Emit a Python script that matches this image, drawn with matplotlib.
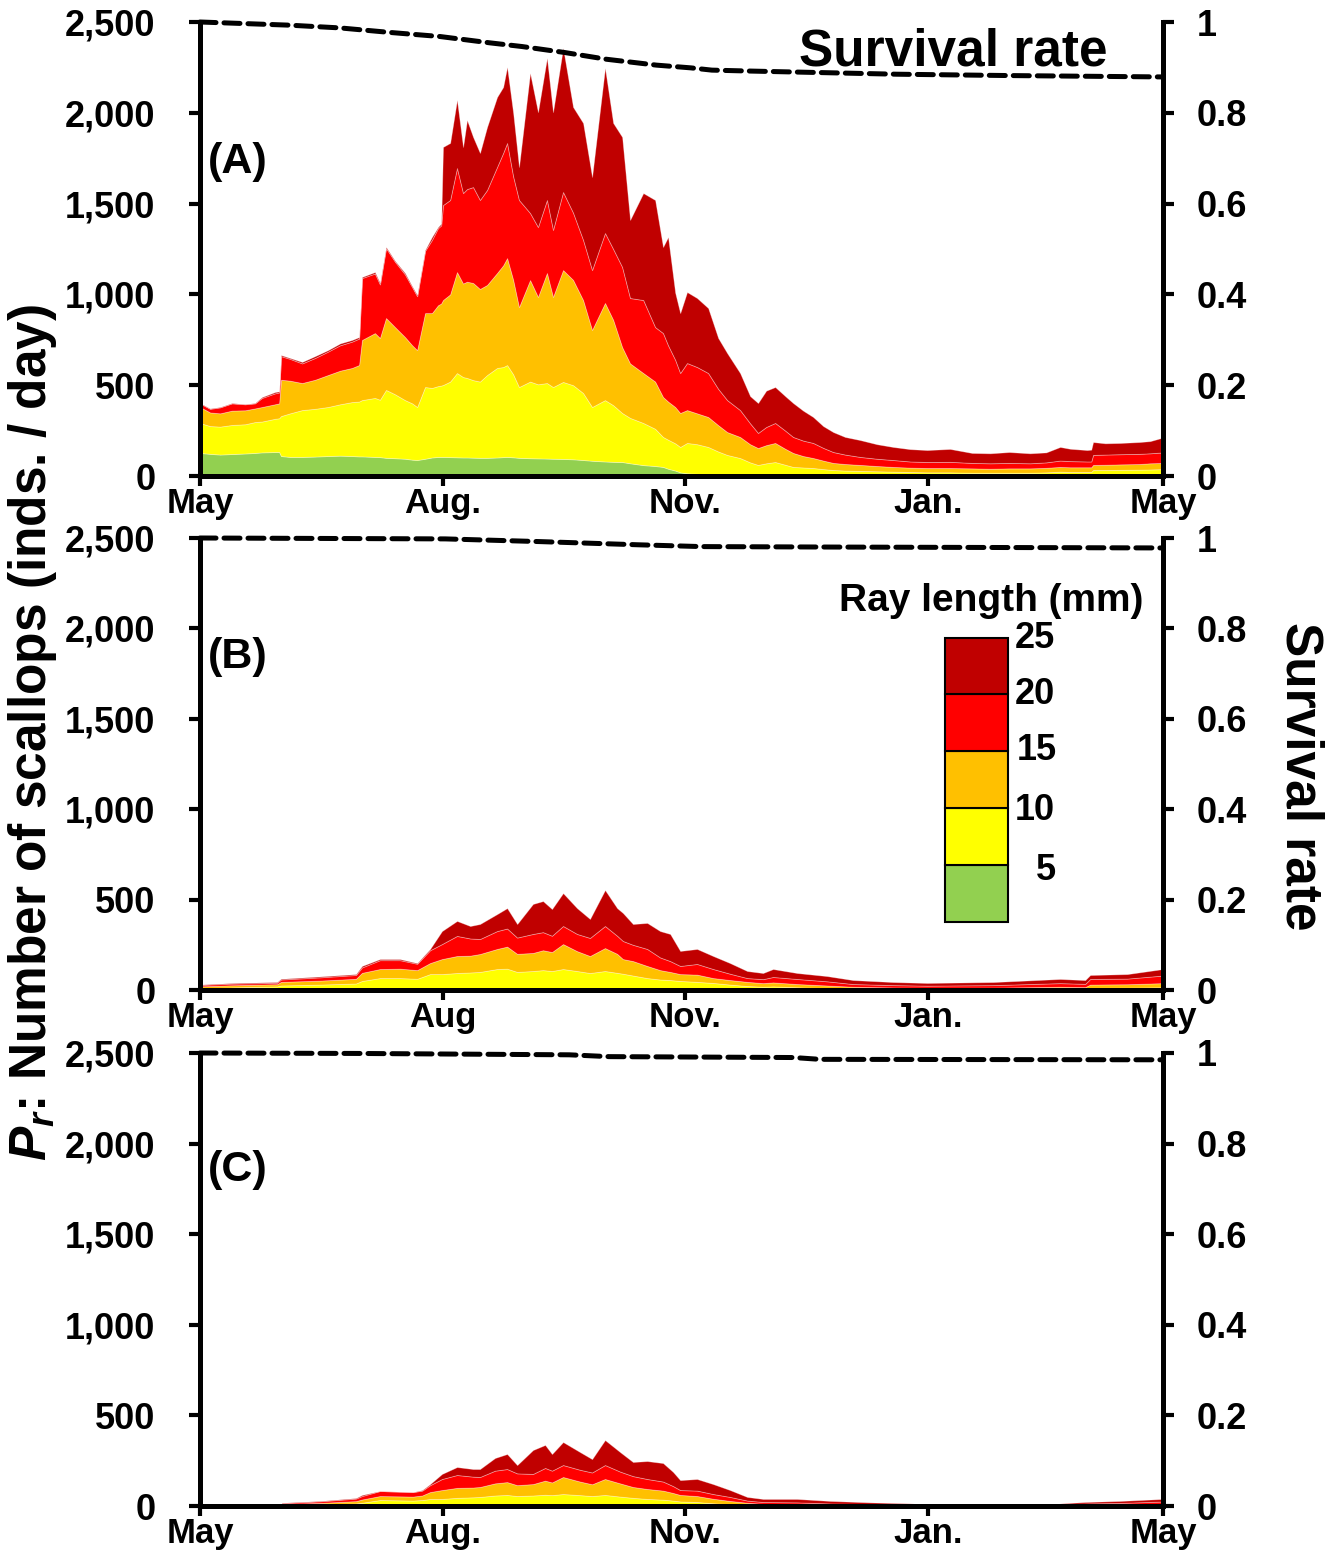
import matplotlib
matplotlib.use("Agg")
import matplotlib.pyplot as plt
from matplotlib.patches import Rectangle
from matplotlib.ticker import FuncFormatter

plt.rcParams['font.family'] = ['Liberation Sans', 'DejaVu Sans']
plt.rcParams['font.weight'] = 'bold'
plt.rcParams['mathtext.fontset'] = 'custom'
plt.rcParams['mathtext.it'] = 'Liberation Sans:italic:bold'
plt.rcParams['mathtext.rm'] = 'Liberation Sans:bold'

# ---------------- data ----------------
# Cumulative daily numbers of scallops with ray length up to 5, 10, 15, 20, 25 mm
# (days counted from 1 May)

# Panel A
day_a = [0, 3.8, 7.6, 12.1, 17.1, 20.8, 23.5, 28.4, 30.0, 30.7,
         34.1, 38.7, 43.6, 48.5, 53.1, 57.6, 60.3, 61.4, 66.3, 68.2,
         70.5, 73.9, 77.7, 80.4, 82.3, 85.3, 87.9, 90.2, 91.4, 92.1,
         94.8, 97.4, 99.7, 101.2, 103.5, 106.1, 108.8, 112.6, 114.9, 116.4,
         118.7, 120.9, 125.1, 128.1, 131.5, 133.8, 137.6, 141.4, 145.2, 148.6,
         153.5, 156.6, 160.0, 163.0, 168.0, 172.5, 175.5, 177.4, 180.1, 182.0,
         184.6, 188.4, 192.6, 196.4, 199.8, 204.7, 208.5, 211.5, 214.6, 218.0,
         221.8, 224.8, 228.6, 232.4, 236.2, 240.0, 244.5, 250.2, 256.6, 262.7,
         269.1, 275.6, 284.3, 292.6, 299.5, 306.7, 314.6, 320.7, 326.0, 329.8,
         336.2, 337.8, 338.5, 343.1, 348.8, 356.0, 360.1, 365]
a_le5 = [127, 122, 118, 121, 124, 127, 130, 132, 132, 110,
         105, 105, 107, 110, 112, 110, 108, 108, 105, 104,
         100, 98, 95, 90, 88, 95, 102, 105, 105, 105,
         104, 103, 102, 102, 101, 100, 100, 102, 104, 105,
         103, 100, 98, 97, 96, 95, 94, 92, 88, 84,
         80, 78, 77, 70, 60, 55, 50, 40, 30, 20,
         15, 12, 8, 5, 3, 2, 1, 0, 0, 0,
         0, 0, 0, 0, 0, 0, 0, 0, 0, 0,
         0, 0, 0, 0, 0, 0, 0, 0, 0, 0,
         0, 0, 0, 0, 0, 0, 0, 0]
a_le10 = [292, 275, 272, 281, 285, 297, 300, 315, 318, 330,
          345, 363, 370, 380, 395, 407, 410, 418, 430, 420,
          474, 450, 418, 400, 380, 490, 485, 495, 498, 501,
          520, 567, 545, 540, 528, 520, 556, 595, 600, 611,
          560, 490, 520, 505, 512, 490, 518, 500, 457, 380,
          418, 390, 347, 320, 292, 260, 215, 200, 180, 160,
          182, 175, 160, 135, 116, 99, 75, 61, 70, 77,
          62, 50, 47, 44, 38, 33, 30, 28, 26, 24,
          22, 20, 20, 18, 18, 18, 18, 20, 24, 22,
          22, 22, 33, 33, 34, 35, 36, 38]
a_le15 = [380, 350, 345, 360, 362, 372, 380, 395, 400, 530,
          525, 512, 530, 556, 580, 595, 611, 749, 787, 760,
          870, 820, 765, 720, 693, 897, 897, 940, 950, 969,
          1000, 1123, 1060, 1070, 1063, 1030, 1052, 1118, 1160, 1200,
          1080, 930, 1079, 986, 1118, 986, 1134, 1080, 969, 804,
          953, 860, 710, 620, 567, 520, 435, 410, 380, 347,
          363, 345, 325, 280, 242, 215, 175, 154, 170, 182,
          150, 127, 110, 99, 85, 72, 66, 61, 55, 50,
          46, 44, 44, 42, 40, 42, 42, 45, 50, 48,
          48, 48, 61, 62, 64, 66, 70, 72]
a_le20 = [400, 370, 378, 400, 395, 400, 430, 455, 460, 660,
          645, 620, 650, 685, 720, 740, 757, 1090, 1115, 1055,
          1255, 1180, 1110, 1040, 990, 1240, 1300, 1365, 1380, 1492,
          1520, 1696, 1558, 1580, 1591, 1520, 1575, 1702, 1779, 1834,
          1650, 1520, 1448, 1371, 1520, 1355, 1564, 1450, 1300, 1134,
          1338, 1250, 1151, 980, 969, 820, 787, 720, 640, 567,
          622, 600, 567, 480, 418, 363, 290, 237, 270, 292,
          250, 215, 195, 182, 155, 132, 118, 105, 95, 88,
          80, 77, 78, 72, 70, 72, 70, 75, 85, 82,
          80, 80, 116, 118, 120, 122, 125, 130]
a_le25 = [402, 372, 380, 402, 396, 402, 435, 462, 466, 666,
          650, 628, 660, 693, 730, 749, 765, 1096, 1123, 1063,
          1261, 1185, 1118, 1045, 997, 1245, 1316, 1371, 1390, 1812,
          1834, 2071, 1812, 1960, 1867, 1779, 1922, 2087, 2142, 2252,
          1999, 1702, 2219, 2004, 2302, 2004, 2357, 2032, 1944, 1647,
          2247, 1944, 1867, 1410, 1558, 1520, 1261, 1316, 1010, 897,
          1013, 980, 925, 760, 677, 567, 440, 402, 470, 490,
          440, 402, 360, 325, 275, 242, 215, 198, 175, 160,
          148, 143, 149, 127, 125, 132, 125, 130, 160, 150,
          143, 145, 187, 180, 182, 187, 192, 212]
surv_day_a = [0, 34, 53, 72, 91, 110, 122, 138, 154, 173, 186, 194, 208, 264, 307, 365]
surv_a = [1.0, 0.993, 0.987, 0.977, 0.968, 0.954, 0.946, 0.933, 0.918, 0.905,
          0.899, 0.894, 0.892, 0.885, 0.882, 0.879]

# Panel B
day_b = [0, 11.4, 22.7, 29.2, 30.7, 45.5, 59.1, 61.4, 68.2, 75.8,
         82.3, 87.2, 91.7, 97.4, 102.4, 106.1, 112.6, 116.4, 120.2, 126.2,
         130.0, 133.4, 137.6, 142.9, 147.8, 153.5, 158.1, 160.3, 164.1, 169.5,
         174.4, 178.2, 182.0, 188.4, 194.5, 200.9, 207.4, 213.4, 217.2, 226.3,
         237.7, 247.5, 262.7, 275.6, 300.6, 326.0, 335.5, 337.4, 351.4, 365]
b_le5 = [2, 2, 2, 2, 3, 3, 3, 3, 3, 3,
         3, 3, 3, 3, 3, 3, 3, 3, 3, 3,
         3, 3, 3, 3, 2, 2, 2, 2, 1, 1,
         1, 0, 0, 0, 0, 0, 0, 0, 0, 0,
         0, 0, 0, 0, 0, 0, 0, 0, 0, 0]
b_le10 = [10, 14, 18, 20, 25, 30, 36, 50, 66, 66,
          62, 88, 88, 94, 97, 100, 116, 118, 100, 105,
          110, 105, 116, 105, 94, 105, 95, 90, 80, 66,
          58, 55, 50, 45, 39, 30, 22, 18, 20, 15,
          10, 8, 6, 5, 5, 8, 7, 12, 13, 15]
b_le15 = [20, 26, 30, 32, 45, 52, 62, 95, 116, 118,
          110, 149, 171, 188, 190, 199, 227, 240, 200, 205,
          220, 210, 254, 215, 188, 232, 200, 171, 160, 133,
          110, 100, 88, 85, 66, 55, 45, 38, 42, 33,
          25, 18, 14, 12, 13, 18, 16, 30, 32, 38]
b_le20 = [28, 35, 38, 40, 58, 70, 83, 125, 165, 165,
          145, 220, 254, 299, 285, 282, 326, 340, 290, 310,
          320, 300, 354, 310, 288, 354, 300, 271, 250, 227,
          180, 160, 133, 144, 116, 90, 66, 60, 72, 61,
          48, 33, 27, 24, 27, 38, 34, 61, 63, 80]
b_le25 = [30, 38, 42, 44, 62, 75, 88, 133, 171, 171,
          149, 227, 326, 382, 354, 365, 420, 453, 365, 476,
          492, 448, 536, 453, 393, 553, 453, 426, 365, 371,
          326, 310, 216, 227, 188, 149, 105, 94, 116, 94,
          77, 55, 44, 39, 44, 61, 55, 83, 88, 116]
surv_day_b = [0, 93, 129, 166, 190, 238, 365]
surv_b = [1.0, 0.998, 0.992, 0.985, 0.981, 0.980, 0.978]

# Panel C
day_c = [0, 30.3, 31.1, 45.5, 59.1, 61.4, 68.2, 80.7, 84.2, 87.2,
         91.7, 97.4, 103.5, 106.1, 111.8, 116.4, 120.2, 126.2, 130.8, 133.4,
         137.6, 144.0, 148.6, 153.5, 159.2, 164.1, 169.5, 175.5, 179.3, 182.0,
         188.4, 194.5, 200.9, 207.4, 213.4, 226.3, 238.8, 254.0, 275.6, 311.2,
         326.0, 335.5, 348.8, 365]
c_le5 = [0] * 44
c_le10 = [1, 2, 6, 9, 14, 18, 33, 30, 33, 39,
          39, 45, 48, 50, 58, 61, 55, 58, 62, 60,
          66, 60, 55, 61, 52, 45, 39, 35, 30, 25,
          22, 15, 10, 6, 4, 3, 2, 1, 1, 1,
          1, 2, 2, 3]
c_le15 = [2, 3, 11, 17, 27, 36, 55, 52, 58, 77,
          88, 100, 102, 105, 125, 132, 115, 121, 140, 130,
          160, 135, 120, 149, 125, 105, 94, 85, 72, 61,
          55, 40, 28, 18, 12, 10, 7, 5, 3, 2,
          3, 6, 7, 10]
c_le20 = [3, 5, 16, 26, 41, 55, 83, 77, 85, 115,
          149, 171, 162, 160, 195, 204, 180, 177, 210, 195,
          226, 200, 185, 226, 190, 165, 149, 135, 110, 88,
          85, 66, 50, 30, 22, 20, 14, 10, 7, 5,
          8, 14, 17, 25]
c_le25 = [3, 5, 18, 28, 44, 61, 83, 77, 88, 121,
          177, 215, 204, 204, 265, 287, 226, 309, 337, 287,
          353, 298, 259, 364, 298, 243, 248, 237, 188, 143,
          149, 121, 88, 50, 39, 39, 28, 20, 12, 8,
          14, 22, 28, 39]
surv_day_c = [0, 60, 140, 155, 225, 235, 365]
surv_c = [1.0, 0.999, 0.996, 0.992, 0.990, 0.986, 0.985]

month_ticks = [0, 92, 184, 276, 365]
month_labels = [['May', 'Aug.', 'Nov.', 'Jan.', 'May'],
                ['May', 'Aug', 'Nov.', 'Jan.', 'May'],
                ['May', 'Aug.', 'Nov.', 'Jan.', 'May']]
panel_tags = ['(A)', '(B)', '(C)']
size_classes = ['5', '10', '15', '20', '25']
class_colors = ['#92D050', '#FFFF00', '#FFC000', '#FF0000', '#C00000']
left_ticks = [0, 500, 1000, 1500, 2000, 2500]
right_ticks = [0, 0.2, 0.4, 0.6, 0.8, 1.0]
right_labels = ['0', '0.2', '0.4', '0.6', '0.8', '1']

panels = [
    (day_a, [a_le5, a_le10, a_le15, a_le20, a_le25], surv_day_a, surv_a),
    (day_b, [b_le5, b_le10, b_le15, b_le20, b_le25], surv_day_b, surv_b),
    (day_c, [c_le5, c_le10, c_le15, c_le20, c_le25], surv_day_c, surv_c),
]
for d, layers, sd, sv in panels:
    for lay in layers:
        assert len(lay) == len(d)
    assert len(sd) == len(sv)

# ---------------- figure ----------------
W, H = 1332, 1553
fig = plt.figure(figsize=(W / 100, H / 100), dpi=100)


def fx(x):
    return x / W


def fy(y):
    return 1 - y / H


def rect(x0, y0, x1, y1):
    return [fx(x0), fy(y1), (x1 - x0) / W, (y1 - y0) / H]


boxes = [(200, 22, 1163, 476), (200, 538, 1163, 990), (200, 1053, 1163, 1506)]
tag_y = [162, 657, 1170]
SPINE = 3.6
FS = 26

for i, ((d, layers, sd, sv), box) in enumerate(zip(panels, boxes)):
    ax = fig.add_axes(rect(*box))
    ax.set_xlim(0, 365)
    ax.set_ylim(0, 2500)
    lower = [0] * len(d)
    for upper, col in zip(layers, class_colors):
        ax.fill_between(d, lower, upper, facecolor=col,
                        edgecolor=(1, 1, 1, 0.35), linewidth=0.6)
        lower = upper
    for s in ['top', 'right']:
        ax.spines[s].set_visible(False)
    for s in ['left', 'bottom']:
        ax.spines[s].set_linewidth(SPINE)
    ax.set_yticks(left_ticks)
    ax.yaxis.set_major_formatter(FuncFormatter(lambda v, _: f'{int(v):,}'))
    ax.set_xticks(month_ticks)
    ax.set_xticklabels(month_labels[i])
    ax.tick_params(axis='y', direction='out', length=8, width=3, pad=24, labelsize=FS)
    ax.tick_params(axis='x', direction='out', length=7, width=3, pad=1, labelsize=25)

    ax2 = ax.twinx()
    ax2.set_ylim(0, 1)
    ax2.plot(sd, sv, color='black', linestyle='--', linewidth=3.6,
             dashes=(3.2, 1.6), dash_capstyle='round', clip_on=False)
    for s in ['top', 'left', 'bottom']:
        ax2.spines[s].set_visible(False)
    ax2.spines['right'].set_linewidth(SPINE)
    ax2.set_yticks(right_ticks)
    ax2.set_yticklabels(right_labels)
    ax2.tick_params(axis='y', direction='out', length=8, width=3, pad=16, labelsize=FS)

    fig.text(fx(208), fy(tag_y[i]), panel_tags[i], fontsize=31,
             ha='left', va='center')

fig.text(fx(953), fy(52), 'Survival rate', fontsize=37, ha='center', va='center')
fig.text(fx(33), fy(732), r'$P_r$: Number of scallops (inds. / day)',
         rotation=90, fontsize=37, ha='center', va='center')
fig.text(fx(1300), fy(776), 'Survival rate', rotation=270, fontsize=37,
         ha='center', va='center')

# colour key for ray-length classes
fig.text(fx(991), fy(601), 'Ray length (mm)', fontsize=28, ha='center', va='center')
edges = [922, 865, 808, 751, 694, 638]
for k, col in enumerate(class_colors):
    y_bot, y_top = edges[k], edges[k + 1]
    fig.add_artist(Rectangle((fx(945), fy(y_bot)), (1008 - 945) / W,
                             (y_bot - y_top) / H, transform=fig.transFigure,
                             facecolor=col, edgecolor='black', linewidth=1.5))
label_pos = [(1036, 870), (1015, 810), (1017, 751), (1015, 694), (1015, 638)]
for lab, (lx, ly) in zip(size_classes, label_pos):
    fig.text(fx(lx), fy(ly), lab, fontsize=FS, ha='left', va='center')

fig.savefig('out.png', dpi=100)
